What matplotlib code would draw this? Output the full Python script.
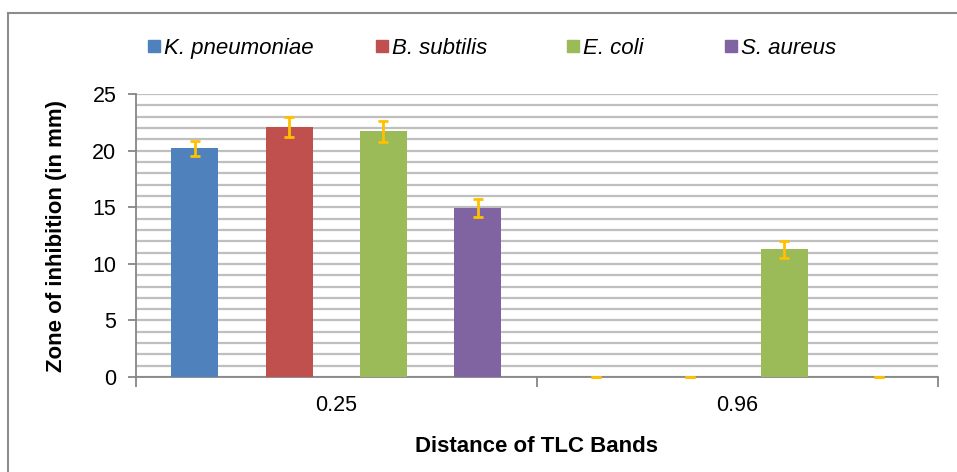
import numpy as np
import matplotlib.pyplot as plt
from matplotlib.lines import Line2D
from matplotlib.ticker import MultipleLocator

plt.rcParams['font.family'] = ['Liberation Sans', 'DejaVu Sans']

# ------------------------------
# Data
# ------------------------------
bands = ["0.25", "0.96"]
species = ["K. pneumoniae", "B. subtilis", "E. coli", "S. aureus"]
k_pneu = [20.2, 0.0]
b_subt = [22.1, 0.0]
e_coli = [21.7, 11.3]
s_aure = [14.9, 0.0]
k_pneu_err = [0.65, 0.0]
b_subt_err = [0.9, 0.0]
e_coli_err = [0.95, 0.75]
s_aure_err = [0.8, 0.0]

colors = ["#4F81BD", "#C0504D", "#9BBB59", "#8064A2"]
C_ERR = "#FFC000"
C_GRID = "#BFBFBF"
C_AXIS = "#868686"

# ------------------------------
# Figure
# ------------------------------
fig = plt.figure(figsize=(9.57, 4.72), dpi=100)
ax = fig.add_axes([0.142, 0.201, 0.838, 0.600])

x = np.arange(len(bands))
width = 0.117
offsets = [-0.353, -0.118, 0.117, 0.352]
series = [k_pneu, b_subt, e_coli, s_aure]
errs = [k_pneu_err, b_subt_err, e_coli_err, s_aure_err]

for vals, err, off, c, name in zip(series, errs, offsets, colors, species):
    ax.bar(x + off, vals, width, color=c, zorder=3, label=name)
    eb = ax.errorbar(x + off, vals, yerr=err, fmt='none', ecolor=C_ERR,
                     elinewidth=2, capsize=3.5, capthick=2, zorder=4)
    for part in eb.lines[1] + eb.lines[2]:
        part.set_clip_on(False)

ax.set_xlim(-0.5, 1.5)
ax.set_ylim(0, 25)
ax.yaxis.set_major_locator(MultipleLocator(5))
ax.yaxis.set_minor_locator(MultipleLocator(1))
ax.grid(True, which='both', axis='y', color=C_GRID, lw=1.6, zorder=0)
ax.set_axisbelow(True)

# category ticks at group boundaries, labels centred
ax.set_xticks([-0.5, 0.5, 1.5])
ax.set_xticklabels(["", "", ""])
ax.set_xticks(x, minor=True)
ax.set_xticklabels(bands, minor=True, fontsize=15.5)
ax.tick_params(axis='x', which='major', length=7, color=C_AXIS, width=1.3)
ax.tick_params(axis='x', which='minor', length=0, pad=13)
ax.tick_params(axis='y', which='major', length=6, color=C_AXIS, width=1.3,
               labelsize=15.5, pad=8)
ax.tick_params(axis='y', which='minor', length=0)

for s in ['top', 'right']:
    ax.spines[s].set_visible(False)
for s in ['left', 'bottom']:
    ax.spines[s].set_color(C_AXIS)
    ax.spines[s].set_linewidth(1.3)

ax.set_ylabel("Zone of inhibition (in mm)", fontsize=16, fontweight='bold', labelpad=18)
ax.set_xlabel("Distance of TLC Bands", fontsize=16, fontweight='bold', labelpad=14)

# legend entries placed one by one (uneven spacing like the original)
leg_x = [112, 340, 531, 689]
for lx, c, name in zip(leg_x, colors, species):
    h = Line2D([], [], marker='s', ls='none', color=c, markersize=8.5)
    fig.legend([h], [name], loc='center left', bbox_to_anchor=(lx / 957, 0.898),
               frameon=False, handletextpad=-0.55,
               prop={'size': 16, 'style': 'italic'})

# outer chart frame (top and left only visible)
fig.add_artist(Line2D([8 / 957, 1.0], [1 - 13 / 472, 1 - 13 / 472],
                      transform=fig.transFigure, color="#8C8C8C", lw=1.5))
fig.add_artist(Line2D([8 / 957, 8 / 957], [0, 1 - 13 / 472],
                      transform=fig.transFigure, color="#8C8C8C", lw=1.5))

fig.savefig("out.png", dpi=100)
